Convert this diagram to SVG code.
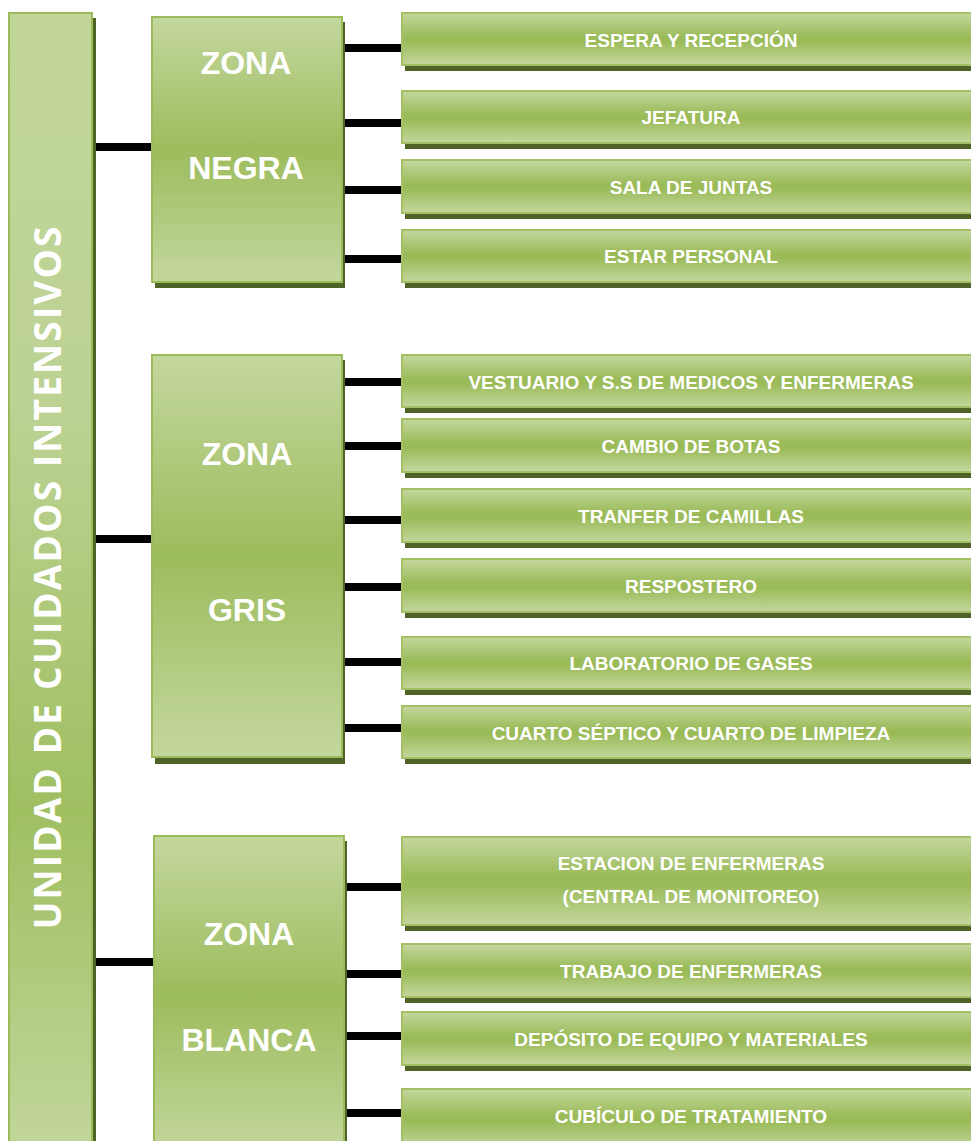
<svg xmlns="http://www.w3.org/2000/svg" width="971" height="1141" viewBox="0 0 971 1141">
<defs>
<linearGradient id="gBox" x1="0" y1="0" x2="0" y2="1">
<stop offset="0" stop-color="#c4d79e"/>
<stop offset="0.45" stop-color="#9bbb59"/>
<stop offset="0.55" stop-color="#9bbb59"/>
<stop offset="1" stop-color="#c4d79e"/>
</linearGradient>
<linearGradient id="gZone" x1="0" y1="0" x2="0" y2="1">
<stop offset="0" stop-color="#c4d79e"/>
<stop offset="0.5" stop-color="#9dbc5c"/>
<stop offset="1" stop-color="#c4d79e"/>
</linearGradient>
<linearGradient id="gBar" x1="0" y1="0" x2="0" y2="1">
<stop offset="0" stop-color="#c2d69b"/>
<stop offset="0.35" stop-color="#bcd293"/>
<stop offset="0.7" stop-color="#a0bf61"/>
<stop offset="1" stop-color="#c2d69b"/>
</linearGradient>
<style>
.sh{fill:#4f6228}
.box{fill:url(#gBox);stroke:#a3c164;stroke-width:2}
.zone{fill:url(#gZone);stroke:#9bbb59;stroke-width:2}
.bar{fill:url(#gBar);stroke:#9bbb59;stroke-width:2}
.t{font-family:"Liberation Sans",Arial,sans-serif;font-weight:bold;fill:#ffffff;text-anchor:middle;font-size:19px}
.z{font-family:"Liberation Sans",Arial,sans-serif;font-weight:bold;fill:#ffffff;text-anchor:middle;font-size:32px}
.v{font-family:"Open Sans","Liberation Sans",sans-serif;font-weight:bold;fill:#ffffff;text-anchor:middle;font-size:37px}
.c{stroke:#000000;stroke-width:8;fill:none}
</style>
</defs>

<g id="connectors">
<line class="c" x1="91" y1="147" x2="154" y2="147"/>
<line class="c" x1="91" y1="539" x2="154" y2="539"/>
<line class="c" x1="91" y1="962" x2="156" y2="962"/>
<line class="c" x1="340" y1="48" x2="404" y2="48"/>
<line class="c" x1="340" y1="123" x2="404" y2="123"/>
<line class="c" x1="340" y1="190" x2="404" y2="190"/>
<line class="c" x1="340" y1="259" x2="404" y2="259"/>
<line class="c" x1="340" y1="382" x2="404" y2="382"/>
<line class="c" x1="340" y1="446" x2="404" y2="446"/>
<line class="c" x1="340" y1="520" x2="404" y2="520"/>
<line class="c" x1="340" y1="587" x2="404" y2="587"/>
<line class="c" x1="340" y1="662" x2="404" y2="662"/>
<line class="c" x1="340" y1="728" x2="404" y2="728"/>
<line class="c" x1="342" y1="887" x2="404" y2="887"/>
<line class="c" x1="344" y1="974" x2="407" y2="974"/>
<line class="c" x1="340" y1="1036" x2="404" y2="1036"/>
<line class="c" x1="342" y1="1113" x2="407" y2="1113"/>
</g>

<g id="unidad">
<rect class="sh" x="12" y="18" width="84" height="1130"/>
<rect class="bar" x="9" y="13" width="83" height="1140"/>
<text class="v" transform="translate(61,578) rotate(-90)" textLength="703">UNIDAD DE CUIDADOS INTENSIVOS</text>
</g>

<g id="zona-negra">
<rect class="sh" x="155" y="22" width="190" height="266"/>
<rect class="zone" x="152" y="17" width="190" height="265"/>
<text class="z" x="246" y="74">ZONA</text>
<text class="z" x="246" y="179">NEGRA</text>
</g>

<g id="zona-gris">
<rect class="sh" x="155" y="360" width="190" height="404"/>
<rect class="zone" x="152" y="355" width="190" height="402"/>
<text class="z" x="247" y="465">ZONA</text>
<text class="z" x="247" y="621">GRIS</text>
</g>

<g id="zona-blanca">
<rect class="sh" x="157" y="841" width="190" height="310"/>
<rect class="zone" x="154" y="836" width="190" height="320"/>
<text class="z" x="249" y="945">ZONA</text>
<text class="z" x="249" y="1051">BLANCA</text>
</g>

<g id="espera">
<rect class="sh" x="405" y="19" width="580" height="52"/>
<rect class="box" x="402" y="13" width="580" height="52"/>
<text class="t" x="691" y="47">ESPERA Y RECEPCIÓN</text>
</g>
<g id="jefatura">
<rect class="sh" x="405" y="97" width="580" height="52"/>
<rect class="box" x="402" y="91" width="580" height="52"/>
<text class="t" x="691" y="124">JEFATURA</text>
</g>
<g id="sala-juntas">
<rect class="sh" x="405" y="166" width="580" height="53"/>
<rect class="box" x="402" y="160" width="580" height="53"/>
<text class="t" x="691" y="194">SALA DE JUNTAS</text>
</g>
<g id="estar-personal">
<rect class="sh" x="405" y="236" width="580" height="52"/>
<rect class="box" x="402" y="230" width="580" height="52"/>
<text class="t" x="691" y="263">ESTAR PERSONAL</text>
</g>

<g id="vestuario">
<rect class="sh" x="405" y="361" width="580" height="52"/>
<rect class="box" x="402" y="355" width="580" height="52"/>
<text class="t" x="691" y="389">VESTUARIO Y S.S DE MEDICOS Y ENFERMERAS</text>
</g>
<g id="cambio-botas">
<rect class="sh" x="405" y="425" width="580" height="53"/>
<rect class="box" x="402" y="419" width="580" height="53"/>
<text class="t" x="691" y="453">CAMBIO DE BOTAS</text>
</g>
<g id="tranfer">
<rect class="sh" x="405" y="495" width="580" height="53"/>
<rect class="box" x="402" y="489" width="580" height="53"/>
<text class="t" x="691" y="523">TRANFER DE CAMILLAS</text>
</g>
<g id="respostero">
<rect class="sh" x="405" y="565" width="580" height="53"/>
<rect class="box" x="402" y="559" width="580" height="53"/>
<text class="t" x="691" y="593">RESPOSTERO</text>
</g>
<g id="laboratorio">
<rect class="sh" x="405" y="643" width="580" height="52"/>
<rect class="box" x="402" y="637" width="580" height="52"/>
<text class="t" x="691" y="670">LABORATORIO DE GASES</text>
</g>
<g id="cuarto-septico">
<rect class="sh" x="405" y="712" width="580" height="52"/>
<rect class="box" x="402" y="706" width="580" height="52"/>
<text class="t" x="691" y="740">CUARTO SÉPTICO Y CUARTO DE LIMPIEZA</text>
</g>

<g id="estacion">
<rect class="sh" x="405" y="843" width="580" height="88"/>
<rect class="box" x="402" y="837" width="580" height="88"/>
<text class="t" x="691" y="870">ESTACION DE ENFERMERAS</text>
<text class="t" x="691" y="903">(CENTRAL DE MONITOREO)</text>
</g>
<g id="trabajo">
<rect class="sh" x="405" y="950" width="580" height="53"/>
<rect class="box" x="402" y="944" width="580" height="53"/>
<text class="t" x="691" y="978">TRABAJO DE ENFERMERAS</text>
</g>
<g id="deposito">
<rect class="sh" x="405" y="1018" width="580" height="53"/>
<rect class="box" x="402" y="1012" width="580" height="53"/>
<text class="t" x="691" y="1046">DEPÓSITO DE EQUIPO Y MATERIALES</text>
</g>
<g id="cubiculo">
<rect class="sh" x="405" y="1095" width="580" height="60"/>
<rect class="box" x="402" y="1089" width="580" height="60"/>
<text class="t" x="691" y="1123">CUBÍCULO DE TRATAMIENTO</text>
</g>
</svg>
